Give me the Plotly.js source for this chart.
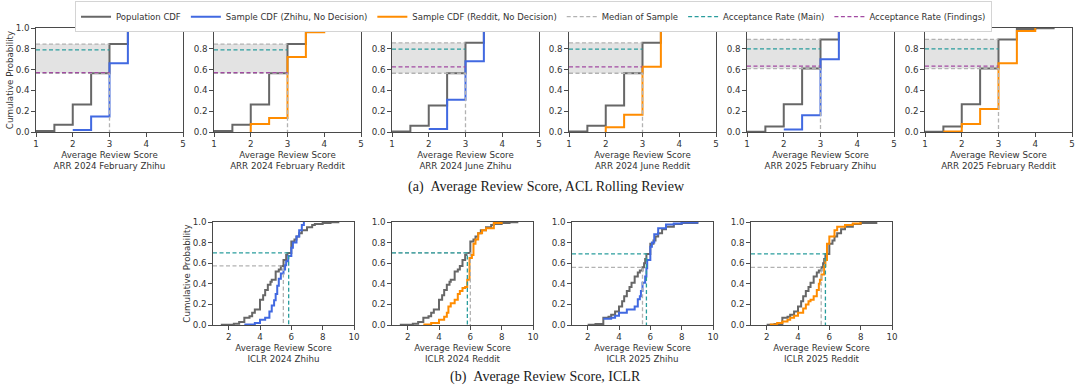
<!DOCTYPE html>
<html><head><meta charset="utf-8">
<script src="https://cdn.plot.ly/plotly-3.0.1.min.js"></script>
<style>html,body{margin:0;padding:0;background:#fff}#chart{width:1080px;height:390px}</style>
</head><body><div id="chart"></div>
<script>
// ---------- ARR (ACL Rolling Review) ----------
const arrTitles = ["ARR 2024 February Zhihu","ARR 2024 February Reddit","ARR 2024 June Zhihu","ARR 2024 June Reddit","ARR 2025 February Zhihu","ARR 2025 February Reddit"];
const arrSources = ["Zhihu","Reddit","Zhihu","Reddit","Zhihu","Reddit"];
const arrScoreSteps = [1, 1.5, 2, 2.5, 3, 3.5, 4, 4.5];
const arrPopFeb2024 = [0.01, 0.07, 0.265, 0.565, 0.845, 0.975, 0.995, 1.0];
const arrPopJun2024 = [0.005, 0.06, 0.255, 0.565, 0.857, 0.987, 0.996, 1.0];
const arrPopFeb2025 = [0.003, 0.053, 0.267, 0.61, 0.89, 0.99, 0.997, 1.0];

const zhihuFeb2024X = [2, 2.5, 3, 3.5, 4];
const zhihuFeb2024Y = [0.02, 0.15, 0.66, 0.97, 1.0];
const redditFeb2024X = [2, 2, 2.5, 3, 3.5, 4];
const redditFeb2024Y = [0, 0.076, 0.134, 0.72, 0.96, 1.0];
const zhihuJun2024X = [2, 2.5, 3, 3.5, 4];
const zhihuJun2024Y = [0.03, 0.31, 0.68, 0.97, 1.0];
const redditJun2024X = [2, 2, 2.5, 3, 3.5, 4];
const redditJun2024Y = [0, 0.045, 0.165, 0.627, 0.98, 1.0];
const zhihuFeb2025X = [2, 2.5, 3, 3.5];
const zhihuFeb2025Y = [0.025, 0.16, 0.70, 1.0];
const redditFeb2025X = [1.5, 2, 2.5, 3, 3.5, 4];
const redditFeb2025Y = [0.005, 0.076, 0.22, 0.66, 0.97, 1.0];

const arrMedian = [3, 3, 3, 3, 3, 3];
const arrBandLow = [0.565, 0.565, 0.565, 0.565, 0.61, 0.61];
const arrBandHigh = [0.845, 0.845, 0.857, 0.857, 0.89, 0.89];
const arrAccMain = [0.79, 0.79, 0.796, 0.796, 0.80, 0.80];
const arrAccFindings = [0.57, 0.57, 0.627, 0.627, 0.634, 0.634];

// ---------- ICLR ----------
const iclrTitles = ["ICLR 2024 Zhihu","ICLR 2024 Reddit","ICLR 2025 Zhihu","ICLR 2025 Reddit"];
const iclrSources = ["Zhihu","Reddit","Zhihu","Reddit"];
const iclrPop2024X = [1.5, 2.33, 2.67, 3, 3.33, 3.5, 3.67, 4, 4.2, 4.33, 4.5, 4.67, 4.75, 5, 5.2, 5.33, 5.5, 5.67, 5.75, 6, 6.2, 6.33, 6.5, 6.67, 7, 7.33, 7.5, 8, 8.5, 9];
const iclrPop2024Y = [0.003, 0.013, 0.03, 0.07, 0.085, 0.12, 0.15, 0.245, 0.29, 0.34, 0.39, 0.42, 0.44, 0.52, 0.54, 0.574, 0.63, 0.68, 0.70, 0.81, 0.83, 0.86, 0.89, 0.92, 0.95, 0.97, 0.98, 0.99, 0.997, 1.0];
const iclrPop2025X = [2.0, 2.5, 3.0, 3.33, 3.5, 3.75, 4.0, 4.2, 4.33, 4.5, 4.67, 4.8, 5.0, 5.2, 5.33, 5.5, 5.6, 5.67, 5.75, 6.0, 6.2, 6.33, 6.5, 6.75, 7.0, 7.5, 8.0, 9.0];
const iclrPop2025Y = [0.003, 0.01, 0.07, 0.08, 0.10, 0.13, 0.18, 0.23, 0.28, 0.33, 0.37, 0.41, 0.47, 0.51, 0.53, 0.56, 0.60, 0.64, 0.69, 0.79, 0.82, 0.86, 0.89, 0.93, 0.955, 0.98, 0.99, 1.0];

const iclrZhihu2024X = [3.0, 3.67, 4.0, 4.33, 4.6, 4.75, 4.9, 5.0, 5.1, 5.2, 5.33, 5.5, 5.6, 5.67, 5.8, 6.0, 6.1, 6.33, 6.5, 6.67, 6.8];
const iclrZhihu2024Y = [0.005, 0.02, 0.05, 0.07, 0.13, 0.19, 0.24, 0.30, 0.38, 0.45, 0.50, 0.54, 0.58, 0.62, 0.67, 0.75, 0.80, 0.86, 0.92, 0.97, 1.0];
const iclrReddit2024X = [3.0, 3.5, 4.0, 4.33, 4.5, 4.6, 4.75, 5.0, 5.2, 5.33, 5.5, 5.67, 5.8, 5.95, 6.1, 6.2, 6.33, 6.5, 6.75, 7.0, 7.5, 8.0];
const iclrReddit2024Y = [0.005, 0.02, 0.05, 0.08, 0.12, 0.18, 0.21, 0.245, 0.30, 0.33, 0.36, 0.37, 0.44, 0.65, 0.68, 0.79, 0.83, 0.89, 0.92, 0.94, 0.99, 1.0];
const iclrZhihu2025X = [3.0, 3.5, 3.75, 4.0, 4.5, 5.0, 5.2, 5.33, 5.4, 5.5, 5.67, 5.75, 5.8, 6.0, 6.1, 6.25, 6.5, 7.0, 7.5, 8.0, 9.0];
const iclrZhihu2025Y = [0.06, 0.07, 0.09, 0.12, 0.15, 0.18, 0.25, 0.28, 0.33, 0.41, 0.47, 0.55, 0.63, 0.76, 0.80, 0.88, 0.94, 0.975, 0.985, 0.995, 1.0];
const iclrReddit2025X = [2.2, 2.67, 3.0, 3.33, 3.5, 3.75, 4.0, 4.33, 4.5, 4.67, 4.8, 5.0, 5.2, 5.33, 5.4, 5.5, 5.67, 5.75, 5.85, 6.0, 6.33, 6.5, 7.0, 7.5, 8.0];
const iclrReddit2025Y = [0.005, 0.02, 0.035, 0.05, 0.07, 0.09, 0.12, 0.16, 0.20, 0.23, 0.245, 0.28, 0.34, 0.40, 0.44, 0.49, 0.57, 0.63, 0.79, 0.86, 0.92, 0.955, 0.97, 0.985, 1.0];

const iclrMedianX = [5.49, 6.0, 5.5, 5.48];
const iclrMedianY = [0.574, 0.70, 0.56, 0.56];
const iclrAccX = [5.83, 5.81, 5.75, 5.75];
const iclrAccY = [0.70, 0.70, 0.69, 0.69];

const yTickVals = [0, 0.2, 0.4, 0.6, 0.8, 1.0];
const arrXTicks = [1, 2, 3, 4, 5];
const iclrXTicks = [2, 4, 6, 8, 10];

// ---------- styling ----------
const C = {pop:'#676767', Zhihu:'#4169E1', Reddit:'#FF8C00', med:'#b2b2b2', main:'#2a9d9d', find:'#a24aa2', band:'#e3e3e3', axis:'#4a4a4a', text:'#333'};
const NAMES = {pop:'Population CDF', Zhihu:'Sample CDF (Zhihu, No Decision)', Reddit:'Sample CDF (Reddit, No Decision)', med:'Median of Sample', main:'Acceptance Rate (Main)', find:'Acceptance Rate (Findings)'};
const RANK = {pop:1, Zhihu:2, Reddit:3, med:4, main:5, find:6};
const shown = new Set();
function legendFlag(k){ if(shown.has(k)) return false; shown.add(k); return true; }

const arrPop = [arrPopFeb2024, arrPopFeb2024, arrPopJun2024, arrPopJun2024, arrPopFeb2025, arrPopFeb2025];
const arrSX = [zhihuFeb2024X, redditFeb2024X, zhihuJun2024X, redditJun2024X, zhihuFeb2025X, redditFeb2025X];
const arrSY = [zhihuFeb2024Y, redditFeb2024Y, zhihuJun2024Y, redditJun2024Y, zhihuFeb2025Y, redditFeb2025Y];
const iclrPX = [iclrPop2024X, iclrPop2024X, iclrPop2025X, iclrPop2025X];
const iclrPY = [iclrPop2024Y, iclrPop2024Y, iclrPop2025Y, iclrPop2025Y];
const iclrSX = [iclrZhihu2024X, iclrReddit2024X, iclrZhihu2025X, iclrReddit2025X];
const iclrSY = [iclrZhihu2024Y, iclrReddit2024Y, iclrZhihu2025Y, iclrReddit2025Y];

const traces = [];
function line(ax, key, x, y, opts){
  const show = legendFlag(key);
  traces.push(Object.assign({type:'scatter', mode:'lines', x:x, y:y, xaxis:'x'+ax, yaxis:'y'+ax,
    name:NAMES[key], legendgroup:key, legendrank:RANK[key], showlegend:show, hoverinfo:'skip'}, opts));
}
const dashStyle = {width:1.3, dash:'4px,2.5px'};

arrTitles.forEach((t, i) => {
  const ax = i + 1, m = arrMedian[i], lo = arrBandLow[i], hi = arrBandHigh[i];
  traces.push({type:'scatter', mode:'lines', x:[1, m, m, 1, 1], y:[lo, lo, hi, hi, lo], fill:'toself',
    fillcolor:C.band, line:{width:0}, xaxis:'x'+ax, yaxis:'y'+ax, showlegend:false, hoverinfo:'skip'});
  line(ax, 'pop', arrScoreSteps, arrPop[i], {line:{color:C.pop, width:2, shape:'hv'}});
  line(ax, arrSources[i], arrSX[i], arrSY[i], {line:{color:C[arrSources[i]], width:2, shape:'hv'}});
  line(ax, 'med', [1, m, m, null, 1, m], [lo, lo, 0, null, hi, hi], {line:Object.assign({color:C.med}, dashStyle)});
  line(ax, 'main', [1, m], [arrAccMain[i], arrAccMain[i]], {line:Object.assign({color:C.main}, dashStyle)});
  line(ax, 'find', [1, m], [arrAccFindings[i], arrAccFindings[i]], {line:Object.assign({color:C.find}, dashStyle)});
});
iclrTitles.forEach((t, j) => {
  const ax = j + 7;
  line(ax, 'pop', iclrPX[j], iclrPY[j], {line:{color:C.pop, width:2, shape:'hv'}});
  line(ax, iclrSources[j], iclrSX[j], iclrSY[j], {line:{color:C[iclrSources[j]], width:2, shape:'hv'}});
  line(ax, 'med', [1, iclrMedianX[j], iclrMedianX[j]], [iclrMedianY[j], iclrMedianY[j], 0], {line:Object.assign({color:C.med}, dashStyle)});
  line(ax, 'main', [1, iclrAccX[j], iclrAccX[j]], [iclrAccY[j], iclrAccY[j], 0], {line:Object.assign({color:C.main}, dashStyle)});
});

const W = 1080, H = 390;
const topX = [36, 214, 392, 569, 747, 925], topW = 147, topY = [28, 132];
const botX = [213, 392, 572, 751], botW = 141, botY = [222, 325];
const FS = 8.7;
function axisBase(){
  return {showline:true, mirror:true, linecolor:C.axis, linewidth:1.1, ticks:'outside', ticklen:3.5, tickwidth:1,
    tickcolor:C.axis, showgrid:false, zeroline:false, tickfont:{family:'DejaVu Sans', size:FS, color:C.text}, fixedrange:true};
}
const layout = {
  width:W, height:H, margin:{l:0, r:0, t:0, b:0}, paper_bgcolor:'#fff', plot_bgcolor:'#fff',
  font:{family:'DejaVu Sans', size:FS, color:C.text}, showlegend:true,
  legend:{orientation:'h', x:0.494, xanchor:'center', y:0.997, yanchor:'top', bordercolor:'#d4d4d4', borderwidth:1,
    bgcolor:'#fff', font:{family:'DejaVu Sans', size:8.5, color:C.text}, traceorder:'normal'},
  annotations:[
    {text:'(a)\u00a0\u00a0Average Review Score, ACL Rolling Review', xref:'paper', yref:'paper', x:0.506, y:1 - 187/H,
     xanchor:'center', yanchor:'middle', showarrow:false, font:{family:'Liberation Serif', size:14, color:'#1a1a1a'}},
    {text:'(b)\u00a0\u00a0Average Review Score, ICLR', xref:'paper', yref:'paper', x:0.505, y:1 - 377/H,
     xanchor:'center', yanchor:'middle', showarrow:false, font:{family:'Liberation Serif', size:14, color:'#1a1a1a'}}
  ]
};
arrTitles.forEach((t, i) => {
  const ax = i + 1;
  layout['xaxis' + ax] = Object.assign(axisBase(), {domain:[topX[i] / W, (topX[i] + topW) / W], anchor:'y' + ax,
    range:[1, 5], tickvals:arrXTicks, title:{text:'Average Review Score<br>' + t, font:{size:FS, color:C.text}, standoff:3}});
  layout['yaxis' + ax] = Object.assign(axisBase(), {domain:[1 - topY[1] / H, 1 - topY[0] / H], anchor:'x' + ax,
    range:[0, 1], tickvals:yTickVals, tickformat:'.1f',
    title:{text: i === 0 ? 'Cumulative Probability' : '', font:{size:FS, color:C.text}, standoff:0}});
});
iclrTitles.forEach((t, j) => {
  const ax = j + 7;
  layout['xaxis' + ax] = Object.assign(axisBase(), {domain:[botX[j] / W, (botX[j] + botW) / W], anchor:'y' + ax,
    range:[1, 10], tickvals:iclrXTicks, title:{text:'Average Review Score<br>' + t, font:{size:FS, color:C.text}, standoff:3}});
  layout['yaxis' + ax] = Object.assign(axisBase(), {domain:[1 - botY[1] / H, 1 - botY[0] / H], anchor:'x' + ax,
    range:[0, 1], tickvals:yTickVals, tickformat:'.1f',
    title:{text: j === 0 ? 'Cumulative Probability' : '', font:{size:FS, color:C.text}, standoff:0}});
});
Plotly.newPlot('chart', traces, layout, {staticPlot:true, displayModeBar:false});
</script>
</body></html>
